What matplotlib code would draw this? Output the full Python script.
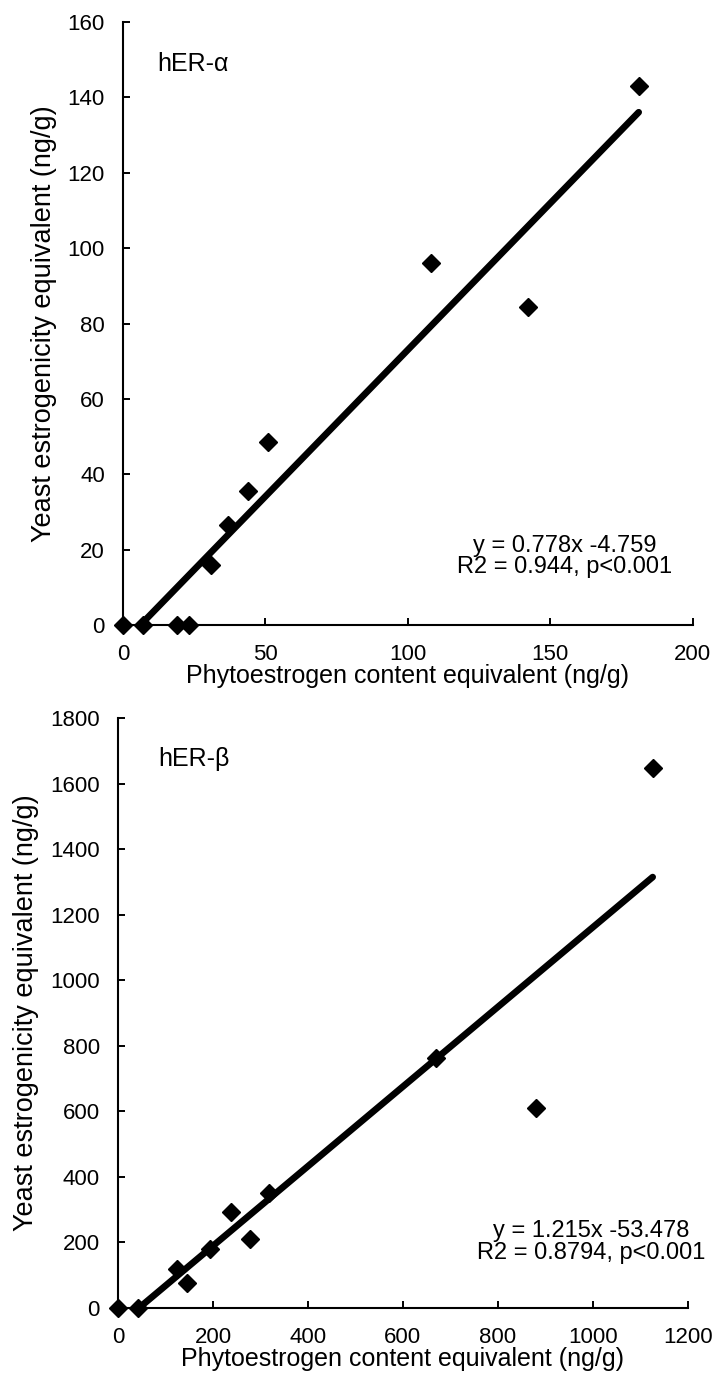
"""Yeast estrogenicity vs phytoestrogen content, hER-alpha and hER-beta."""
import matplotlib
matplotlib.use("Agg")
import matplotlib.pyplot as plt

plt.rcParams["font.family"] = ["Liberation Sans", "DejaVu Sans"]

# ── data ────────────────────────────────────────────────────────────────────
alpha_x = [0, 7, 19, 23, 31, 37, 44, 51, 108, 142, 181]
alpha_y = [0, 0, 0, 0, 16, 26.5, 35.5, 48.5, 96, 84.5, 143]
alpha_fit = (0.778, -4.759)

beta_x = [0, 42, 124, 145, 194, 238, 278, 318, 669, 880, 1126]
beta_y = [0, 0, 119, 76, 180, 293, 210, 351, 762, 610, 1648]
beta_fit = (1.215, -53.478)

xlabel = "Phytoestrogen content equivalent (ng/g)"
ylabel = "Yeast estrogenicity equivalent (ng/g)"

PANELS = [
    {
        "x": alpha_x, "y": alpha_y, "fit": alpha_fit, "name": "hER-\u03b1",
        "eq": "y = 0.778x -4.759\nR2 = 0.944, p<0.001",
        "xlim": (0, 200), "xticks": [0, 50, 100, 150, 200],
        "ylim": (0, 160), "yticks": list(range(0, 161, 20)),
        "rect": [0.172, 0.5513, 0.797, 0.4329],
        "name_pos": (0.06, 0.93), "eq_pos": (0.775, 0.113),
    },
    {
        "x": beta_x, "y": beta_y, "fit": beta_fit, "name": "hER-\u03b2",
        "eq": "y = 1.215x -53.478\nR2 = 0.8794, p<0.001",
        "xlim": (0, 1200), "xticks": list(range(0, 1201, 200)),
        "ylim": (0, 1800), "yticks": list(range(0, 1801, 200)),
        "rect": [0.165, 0.0610, 0.797, 0.4236],
        "name_pos": (0.07, 0.93), "eq_pos": (0.83, 0.112),
    },
]

fig = plt.figure(figsize=(7.15, 13.93), dpi=100)

for p in PANELS:
    ax = fig.add_axes(p["rect"])
    a, b = p["fit"]
    x0, x1 = -b / a, max(p["x"])
    ax.plot([x0, x1], [a * x0 + b, a * x1 + b], color="black", lw=4.8,
            solid_capstyle="round", zorder=2)
    ax.plot(p["x"], p["y"], linestyle="none", marker="D", markersize=9.5,
            color="black", clip_on=False, zorder=3)

    ax.set_xlim(*p["xlim"])
    ax.set_ylim(*p["ylim"])
    ax.set_xticks(p["xticks"])
    ax.set_yticks(p["yticks"])
    for side in ("top", "right"):
        ax.spines[side].set_visible(False)
    for side in ("left", "bottom"):
        ax.spines[side].set_linewidth(1.5)
    ax.tick_params(direction="in", length=5, width=1.4, labelsize=16)
    ax.tick_params(axis="y", pad=13)
    ax.tick_params(axis="x", pad=14)

    ax.set_xlabel(xlabel, fontsize=18, labelpad=-1)
    ax.set_ylabel(ylabel, fontsize=19.5, labelpad=8)

    ax.text(*p["name_pos"], p["name"], transform=ax.transAxes, fontsize=18,
            ha="left", va="center")
    ax.text(*p["eq_pos"], p["eq"], transform=ax.transAxes, fontsize=17,
            ha="center", va="center", multialignment="center", linespacing=0.95)

fig.savefig("out.png", dpi=100)
